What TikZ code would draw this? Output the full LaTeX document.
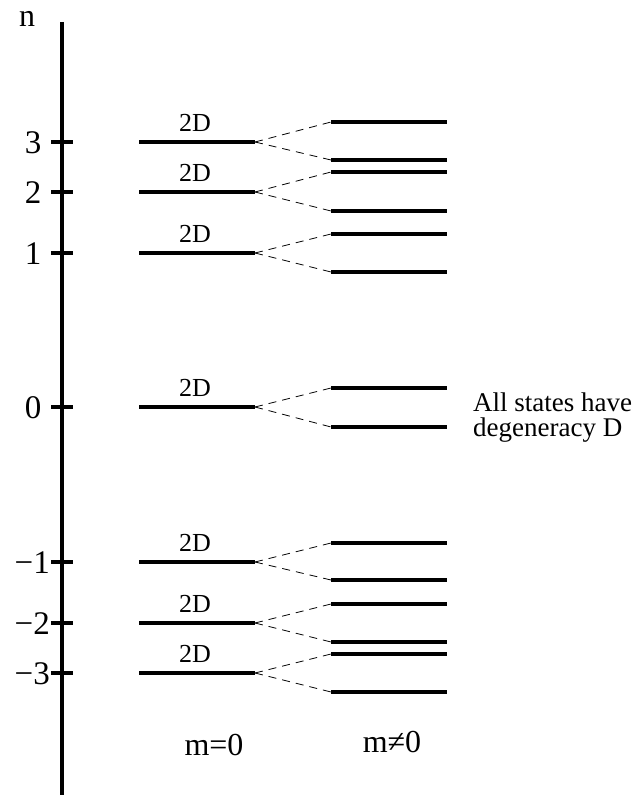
\documentclass[tikz,border=0pt]{standalone}
\usepackage{fontspec}
\setmainfont{Liberation Serif}
\begin{document}
\begin{tikzpicture}[x=1bp,y=-1bp,
  lvl/.style={line width=3.8bp},
  split/.style={line width=0.8bp,dash pattern=on 8bp off 6bp},
  axlab/.style={inner sep=0pt,font=\fontsize{33bp}{35bp}\selectfont},
  deglab/.style={inner sep=0pt,font=\fontsize{26bp}{28bp}\selectfont},
  biglab/.style={inner sep=0pt,font=\fontsize{32bp}{34bp}\selectfont}]
\useasboundingbox (0,0) rectangle (637,795);
% axis
\coordinate (atop) at (62,22);
\coordinate (abot) at (62,795);
\draw[line width=4bp] (atop) -- (abot);
\node[biglab] (nlab) at (27,19) {n};
% ticks and labels
\foreach \v/\y in {3/142, 2/192, 1/253, 0/407, m1/562, m2/623, m3/673}{
  \coordinate (tl\v) at (51,\y);
  \coordinate (tr\v) at (73,\y);
  \draw[line width=3.6bp] (tl\v) -- (tr\v);
}
\foreach \v/\y/\t in {3/142/3, 2/192/2, 1/253/1, 0/407/0}{
  \node[axlab] (lab\v) at (33,\y+1) {\t};
}
\foreach \v/\y/\t in {m1/562/{−1}, m2/623/{−2}, m3/673/{−3}}{
  \node[axlab,anchor=east] (lab\v) at (50,\y+1) {\t};
}
% levels
\foreach \v/\y/\ya/\yb in {3/142/122/160, 2/192/172/211, 1/253/234/272, 0/407/388/427, m1/562/543/580, m2/623/604/642, m3/673/654/692}{
  \coordinate (La\v) at (139,\y);
  \coordinate (Lb\v) at (255,\y);
  \draw[lvl] (La\v) -- (Lb\v);
  \node[deglab] (d\v) at (195,\y-19) {2D};
  \coordinate (Ua\v) at (331,\ya);
  \coordinate (Ub\v) at (447,\ya);
  \coordinate (Da\v) at (331,\yb);
  \coordinate (Db\v) at (447,\yb);
  \draw[lvl] (Ua\v) -- (Ub\v);
  \draw[lvl] (Da\v) -- (Db\v);
  \draw[split] (Lb\v) -- (Ua\v);
  \draw[split] (Lb\v) -- (Da\v);
}
\node[inner sep=0pt,anchor=west,align=left,font=\fontsize{27bp}{25bp}\selectfont] (note) at (473,418) {All states have\\degeneracy D};
\node[biglab] (m0) at (214,745) {m=0};
\node[biglab] (mn0) at (392,742) {m≠0};
\end{tikzpicture}
\end{document}
